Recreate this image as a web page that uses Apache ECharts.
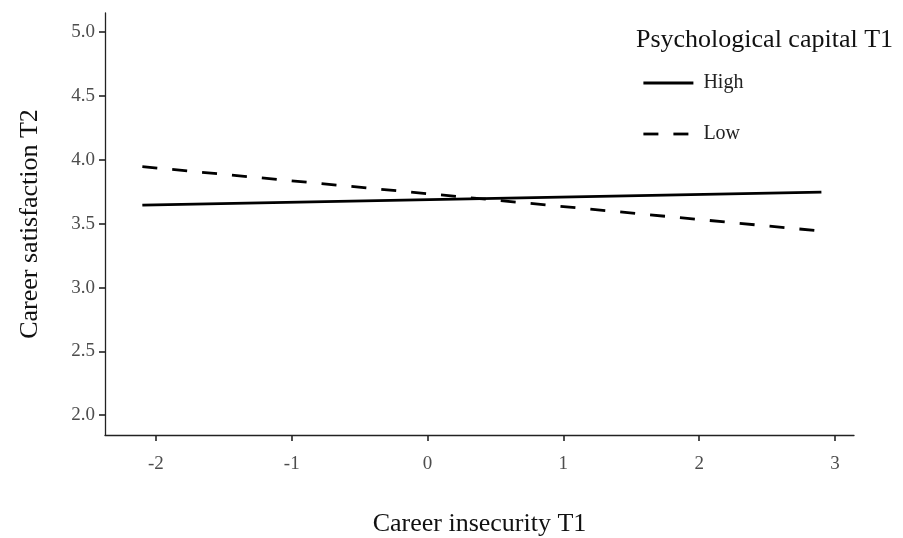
<!DOCTYPE html>
<html>
<head>
<meta charset="utf-8">
<script src="https://cdn.jsdelivr.net/npm/echarts@6/dist/echarts.min.js"></script>
<style>html,body{margin:0;padding:0;background:#fff}#c{width:903px;height:538px}</style>
</head>
<body>
<div id="c"></div>
<script>
const xValues = [-2.1, 2.9];
const highValues = [3.645, 3.747];
const lowValues = [3.947, 3.442];
const xTicks = [-2, -1, 0, 1, 2, 3];
const yTicks = [2.0, 2.5, 3.0, 3.5, 4.0, 4.5, 5.0];
const seriesNames = ['High', 'Low'];

const font = 'Liberation Serif, Times New Roman, serif';
const chart = echarts.init(document.getElementById('c'));
chart.setOption({
  animation: false,
  backgroundColor: '#fff',
  title: {
    text: 'Psychological capital T1',
    left: 631, top: 22,
    textStyle: {fontFamily: font, fontSize: 26, fontWeight: 'normal', color: '#111'}
  },
  legend: {
    orient: 'vertical', left: 637, top: 68, itemGap: 31,
    itemWidth: 50, itemHeight: 20,
    data: seriesNames,
    itemStyle: {opacity: 0},
    lineStyle: {width: 2.8, color: '#000'},
    textStyle: {fontFamily: font, fontSize: 20, color: '#222', padding: [0, 0, 0, 5]}
  },
  grid: {left: 105, right: 49, top: 13, bottom: 103, containLabel: false, outerBoundsMode: 'none'},
  xAxis: {
    type: 'value', min: -2.375, max: 3.14,
    name: 'Career insecurity T1', nameLocation: 'middle', nameGap: 76,
    nameTextStyle: {fontFamily: font, fontSize: 26, color: '#111'},
    axisLine: {show: true, onZero: false, lineStyle: {color: '#222', width: 1.3}},
    axisTick: {show: true, length: 6, customValues: xTicks, lineStyle: {color: '#222', width: 1.6}},
    axisLabel: {customValues: xTicks, margin: 20, fontFamily: font, fontSize: 19, color: '#4d4d4d',
      formatter: v => String(v)},
    splitLine: {show: false}
  },
  yAxis: {
    type: 'value', min: 1.845, max: 5.15,
    name: 'Career satisfaction T2', nameLocation: 'middle', nameGap: 62,
    nameTextStyle: {fontFamily: font, fontSize: 26, color: '#111'},
    axisLine: {show: true, onZero: false, lineStyle: {color: '#222', width: 1.3}},
    axisTick: {show: true, length: 6, customValues: yTicks, lineStyle: {color: '#222', width: 1.6}},
    axisLabel: {customValues: yTicks, margin: 10, fontFamily: font, fontSize: 19, color: '#4d4d4d',
      formatter: v => v.toFixed(1)},
    splitLine: {show: false}
  },
  series: [
    {
      name: seriesNames[0], type: 'line', symbol: 'none',
      data: xValues.map((x, i) => [x, highValues[i]]),
      lineStyle: {color: '#000', width: 2.8, type: 'solid'},
      itemStyle: {color: '#000'}
    },
    {
      name: seriesNames[1], type: 'line', symbol: 'none',
      data: xValues.map((x, i) => [x, lowValues[i]]),
      lineStyle: {color: '#000', width: 2.8, type: [15, 15]},
      itemStyle: {color: '#000'}
    }
  ]
});
</script>
</body>
</html>
